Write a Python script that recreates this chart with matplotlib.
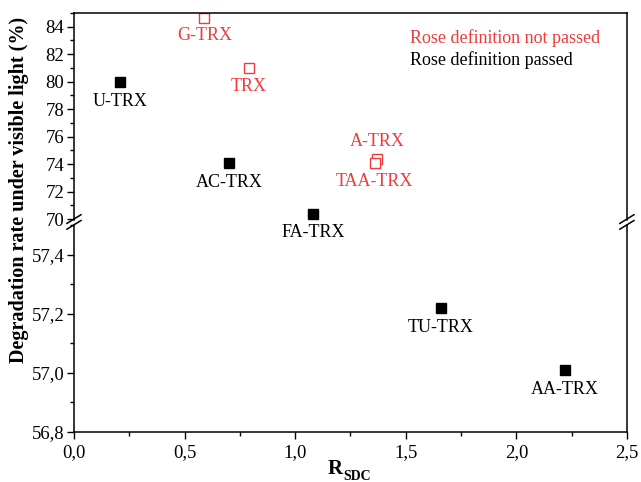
import matplotlib.pyplot as plt
from matplotlib.ticker import MultipleLocator, FuncFormatter
from matplotlib.lines import Line2D

plt.rcParams['font.family'] = ['Liberation Serif', 'DejaVu Serif']

# passed (black filled squares)
passed_names = ['U-TRX', 'AC-TRX', 'FA-TRX', 'TU-TRX', 'AA-TRX']
passed_x = [0.21, 0.70, 1.08, 1.66, 2.22]
passed_y = [80.0, 74.05, 70.4, 57.22, 57.01]

# not passed (red open squares)
failed_names = ['G-TRX', 'TRX', 'A-TRX', 'TAA-TRX']
failed_x = [0.59, 0.79, 1.37, 1.36]
failed_y = [84.65, 81.0, 74.35, 74.05]

red = '#ee3b3b'
fig = plt.figure(figsize=(6.41, 4.82), dpi=100)
ax_top = fig.add_axes([0.1154, 0.5436, 0.8626, 0.4294])
ax_bot = fig.add_axes([0.1154, 0.1037, 0.8626, 0.4294])
ax_bot.patch.set_alpha(0)

comma = FuncFormatter(lambda v, p: ('%.1f' % v).replace('.', ','))

for ax in (ax_top, ax_bot):
    ax.plot(passed_x, passed_y, 's', color='black', ms=7.5, ls='none')
    ax.plot(failed_x, failed_y, 's', mfc='white', mec=red, mew=1.0, ms=7.5, ls='none')
    ax.set_xlim(0, 2.5)
    ax.tick_params(direction='out', labelsize=13.5, length=5, width=1, pad=2)
    ax.tick_params(which='minor', direction='out', length=3, width=1)
    for s in ax.spines.values():
        s.set_linewidth(1.1)

ax_top.set_ylim(69.93, 85.0)
ax_bot.set_ylim(56.8, 57.5)
ax_top.yaxis.set_major_locator(MultipleLocator(2))
ax_top.yaxis.set_minor_locator(MultipleLocator(1))
ax_bot.yaxis.set_major_locator(MultipleLocator(0.2))
ax_bot.yaxis.set_minor_locator(MultipleLocator(0.1))
ax_bot.yaxis.set_major_formatter(comma)
ax_bot.xaxis.set_major_locator(MultipleLocator(0.5))
ax_bot.xaxis.set_minor_locator(MultipleLocator(0.25))
ax_bot.xaxis.set_major_formatter(comma)
ax_bot.tick_params(axis='x', pad=4)
ax_top.spines['bottom'].set_visible(False)
ax_bot.spines['top'].set_visible(False)
ax_top.tick_params(axis='x', which='both', bottom=False, labelbottom=False)

# point labels
for n, x, y in zip(passed_names, passed_x, passed_y):
    ax = ax_top if y > 60 else ax_bot
    t = ax.annotate(n, (x, y), xytext=(0, -14), textcoords='offset points',
                    ha='center', va='center', fontsize=13, annotation_clip=False)
    t.set_clip_on(False)
    t.set_zorder(10)
for n, x, y in zip(failed_names, failed_x, failed_y):
    dy = 13 if n == 'A-TRX' else -13
    ax_top.annotate(n, (x, y), xytext=(0, dy), textcoords='offset points',
                    ha='center', va='center', fontsize=13, color=red)

ax_top.text(0.608, 0.855, 'Rose definition not passed', transform=ax_top.transAxes,
            color=red, fontsize=13)
ax_top.text(0.608, 0.75, 'Rose definition passed', transform=ax_top.transAxes,
            color='black', fontsize=13)

# break marks
for xf in (0.1154, 0.978):
    for yf in (0.5455, 0.5335):
        fig.add_artist(Line2D([xf - 0.011, xf + 0.011], [yf - 0.009, yf + 0.009],
                              color='black', lw=1.1))

fig.text(0.030, 0.606, 'Degradation rate under visible light (%)', rotation=90,
         ha='center', va='center', fontsize=14.5, fontweight='bold')
# x label: R with subscript SDC
fig.text(0.535, 0.016, 'R', ha='right', va='baseline', fontsize=15, fontweight='bold')
fig.text(0.535, 0.005, 'SDC', ha='left', va='baseline', fontsize=10, fontweight='bold')

fig.savefig('out.png', dpi=100)
